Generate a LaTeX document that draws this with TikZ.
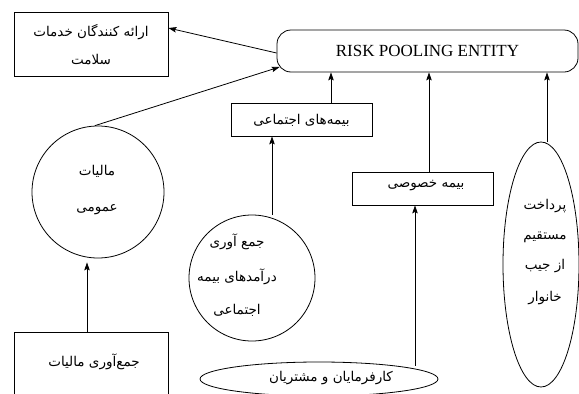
\documentclass[tikz,border=0pt]{standalone}
\usepackage{fontspec}
\setmainfont{Liberation Serif}
\newfontfamily\arabicfont[Script=Arabic]{DejaVu Sans}
\TeXXeTstate=1
\usetikzlibrary{arrows.meta,shapes.geometric}
\tikzset{
  ln/.style={line width=0.8pt, draw=black},
  boxnode/.style={ln, rectangle, inner sep=0pt},
  circnode/.style={ln, circle, inner sep=0pt},
  ellnode/.style={ln, ellipse, inner sep=0pt},
  fa/.style={font=\arabicfont\fontsize{13.5}{13.5}\selectfont, align=center, inner sep=0pt},
  arr/.style={ln, -{Stealth[length=8pt,width=5.5pt,inset=1.5pt]}},
}
\begin{document}
\begin{tikzpicture}[x=1pt,y=-1pt]
\clip (0,0) rectangle (579,394);
\fill[white] (0,0) rectangle (579,394);
% nodes
\node[boxnode, minimum width=154pt, minimum height=64pt] (prov) at (91,44.5) {};
\node[fa] (provt) at (91,45) {\beginR ارائه کنندگان خدمات\endR\\[13.5pt]\beginR سلامت\endR};
\node[boxnode, rounded corners=14pt, minimum width=301pt, minimum height=42pt,
      font=\fontsize{17}{17}\selectfont] (rpe) at (427.5,51) {RISK POOLING ENTITY};
\node[boxnode, minimum width=141pt, minimum height=33pt] (soc) at (301.5,119.5) {};
\node[fa] (soct) at (301.5,120) {\beginR بیمه‌های اجتماعی\endR};
\node[boxnode, minimum width=141pt, minimum height=33pt] (priv) at (422.5,188.5) {};
\node[fa] (privt) at (426,186) {\beginR بیمه خصوصی\endR};
\node[circnode, minimum size=132pt] (tax) at (98,192) {};
\node[fa] (taxt) at (97,190) {\beginR مالیات\endR\\[22.5pt]\beginR عمومی\endR};
\node[circnode, minimum size=126pt] (circ2) at (252,278) {};
\node[fa] (circ2t) at (237,275) {\beginR جمع آوری\endR\\[18pt]\beginR درآمدهای بیمه\endR\\[18pt]\beginR اجتماعی\endR};
\node[ellnode, minimum width=76pt, minimum height=245pt] (tall) at (541,264.5) {};
\node[fa] (tallt) at (545,252) {\beginR پرداخت\endR\\[16.5pt]\beginR مستقیم\endR\\[16.5pt]\beginR از جیب\endR\\[16.5pt]\beginR خانوار\endR};
\node[boxnode, minimum width=154pt, minimum height=80pt, anchor=north] (taxcol) at (91,332) {};
\node[fa] (taxcolt) at (94,362) {\beginR جمع‌آوری مالیات\endR};
\node[ellnode, minimum width=238pt, minimum height=34pt] (emp) at (319,379) {};
\node[fa] (empt) at (331,378) {\beginR کارفرمایان و مشتریان\endR};
% connectors
\draw[arr] ([yshift=-2pt]rpe.west) -- ([yshift=16.5pt]prov.east);
\draw[arr] ([xshift=-3pt]tax.north) -- ([xshift=3pt,yshift=-16pt]rpe.west);
\draw[arr] ([xshift=-4pt]taxcol.north) -- ([xshift=-4pt,yshift=-4pt]taxcol.north |- tax.south);
\draw[arr] ([xshift=20pt]circ2.north) -- ([xshift=20pt]circ2.north |- soc.south);
\draw[arr] ([xshift=29.5pt]soc.north) -- ([xshift=29.5pt]soc.north |- rpe.south);
\draw[arr] ([xshift=6.5pt]priv.north) -- ([xshift=6.5pt]priv.north |- rpe.south);
\draw[arr] ([xshift=96pt,yshift=-4pt]emp.north) -- ([xshift=96pt]emp.north |- priv.south);
\draw[arr] ([xshift=6pt]tall.north) -- ([xshift=6pt]tall.north |- rpe.south);
\end{tikzpicture}
\end{document}
